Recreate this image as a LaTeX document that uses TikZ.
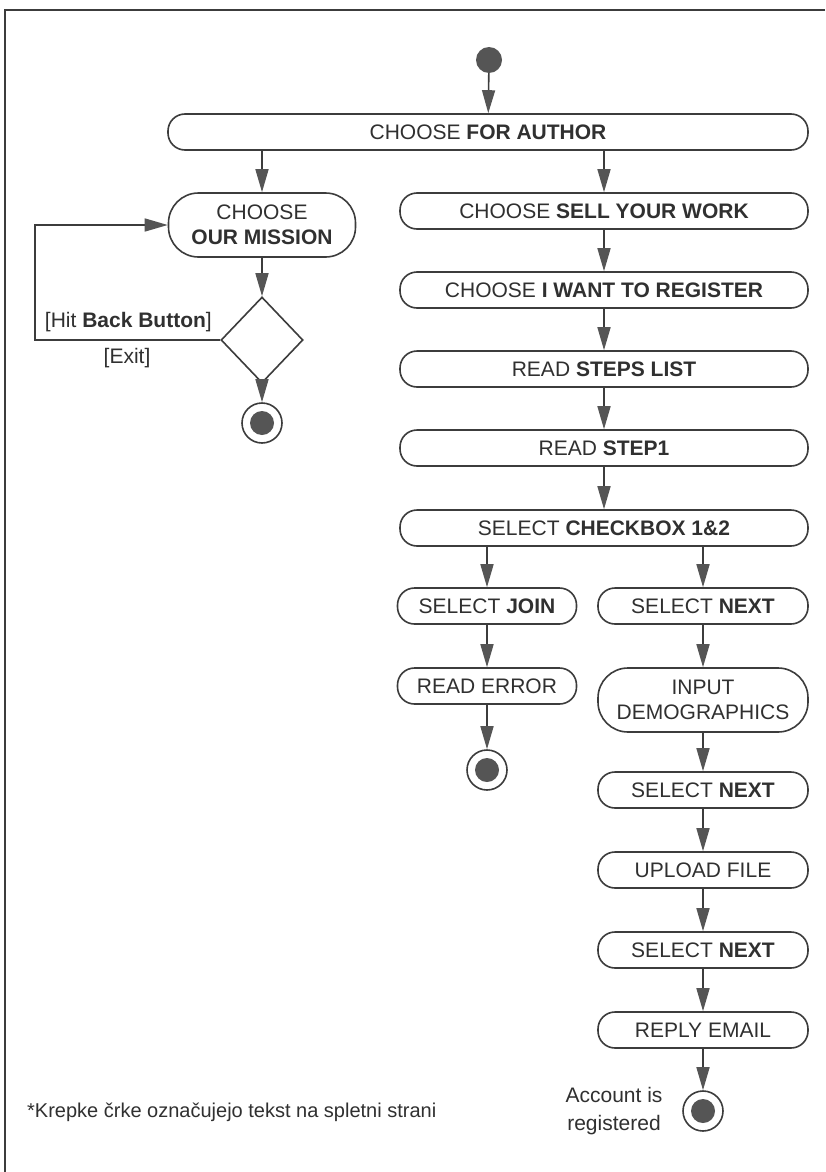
\documentclass[tikz,border=0pt]{standalone}
\usepackage{fontspec}
\setmainfont{Liberation Sans}
\usetikzlibrary{arrows.meta,shapes.geometric}
\definecolor{linec}{HTML}{3C3C3C}
\definecolor{txtc}{HTML}{303030}
\definecolor{dotc}{HTML}{555555}
\newcommand{\fs}{\fontsize{21}{25}\selectfont}
\tikzset{
  act/.style={draw=linec, line width=1.6pt, rounded corners=17pt, minimum height=36pt, inner sep=0pt, align=center, text=txtc, font=\fs},
  bigact/.style={act, rounded corners=30pt, minimum height=64pt},
  startdot/.style={circle, fill=dotc, minimum size=26pt, inner sep=0pt},
  enddot/.style={circle, draw=linec, line width=1.6pt, minimum size=40pt, inner sep=0pt,
    path picture={\fill[dotc] (path picture bounding box.center) circle (12pt);}},
  flow/.style={draw=linec, line width=1.6pt, -{Triangle[length=23pt,width=13pt,fill=dotc,color=dotc]}},
  plain/.style={draw=linec, line width=1.6pt},
  lbl/.style={text=txtc, font=\fs, inner sep=0pt, align=center}
}
\begin{document}
\begin{tikzpicture}[x=1pt,y=-1pt]
\useasboundingbox (0,0) rectangle (825,1172);
\fill[white] (0,0) rectangle (825,1172);
% frame
\coordinate (ftl) at (5,10);
\coordinate (ftr) at (825,10);
\coordinate (fbl) at (5,1172);
\draw[plain] (ftr) -- (ftl) -- (fbl);

\node[startdot] (start) at (489,60) {};
\node[act, minimum width=640pt] (author) at (488,132) {CHOOSE \textbf{FOR AUTHOR}};

% left branch
\node[bigact, minimum width=187pt] (mission) at (262,225) {CHOOSE\\\textbf{OUR MISSION}};
\node[diamond, draw=linec, line width=1.6pt, minimum width=82pt, minimum height=86pt, inner sep=0pt] (dia) at (262,340) {};
\node[enddot] (endL) at (262,423) {};
\coordinate (lp) at (35,340);
\node[lbl, anchor=east] (hit) at (212,322) {[Hit \textbf{Back Button}]};
\node[lbl] (exit) at (127,358) {[Exit]};

% right column
\node[act, minimum width=408pt] (sell) at (604,211) {CHOOSE \textbf{SELL YOUR WORK}};
\node[act, minimum width=408pt] (reg) at (604,290) {CHOOSE \textbf{I WANT TO REGISTER}};
\node[act, minimum width=408pt] (steps) at (604,369) {READ \textbf{STEPS LIST}};
\node[act, minimum width=408pt] (step1) at (604,448) {READ \textbf{STEP1}};
\node[act, minimum width=408pt] (check) at (604,528) {SELECT \textbf{CHECKBOX 1\&2}};

\node[act, minimum width=179pt] (join) at (487,606) {SELECT \textbf{JOIN}};
\node[act, minimum width=179pt] (err) at (487,686) {READ ERROR};
\node[enddot] (endM) at (487,770) {};

\node[act, minimum width=210pt] (next1) at (703,606) {SELECT \textbf{NEXT}};
\node[bigact, minimum width=210pt] (demo) at (703,700) {INPUT\\DEMOGRAPHICS};
\node[act, minimum width=210pt] (next2) at (703,790) {SELECT \textbf{NEXT}};
\node[act, minimum width=210pt] (upload) at (703,870) {UPLOAD FILE};
\node[act, minimum width=210pt] (next3) at (703,950) {SELECT \textbf{NEXT}};
\node[act, minimum width=210pt] (reply) at (703,1030) {REPLY EMAIL};
\node[enddot] (endR) at (703,1111) {};
\node[lbl, font=\fontsize{21}{28}\selectfont] (acc) at (614,1111) {Account is\\registered};

\node[lbl, anchor=west, font=\fontsize{20}{24}\selectfont] (note) at (27,1112) {*Krepke črke označujejo tekst na spletni strani};

% connectors
\draw[flow] (start) -- (author);
\draw[flow] (author.south -| mission.north) -- (mission.north);
\draw[flow] (author.south -| sell.north) -- (sell.north);
\draw[flow] (mission) -- (dia);
\draw[flow] (dia) -- (endL);
\draw[flow] (dia.west) -- (lp) |- (mission.west);
\draw[flow] (sell) -- (reg);
\draw[flow] (reg) -- (steps);
\draw[flow] (steps) -- (step1);
\draw[flow] (step1) -- (check);
\draw[flow] (check.south -| join.north) -- (join.north);
\draw[flow] (check.south -| next1.north) -- (next1.north);
\draw[flow] (join) -- (err);
\draw[flow] (err) -- (endM);
\draw[flow] (next1) -- (demo);
\draw[flow] (demo) -- (next2);
\draw[flow] (next2) -- (upload);
\draw[flow] (upload) -- (next3);
\draw[flow] (next3) -- (reply);
\draw[flow] (reply) -- (endR);
\end{tikzpicture}
\end{document}
